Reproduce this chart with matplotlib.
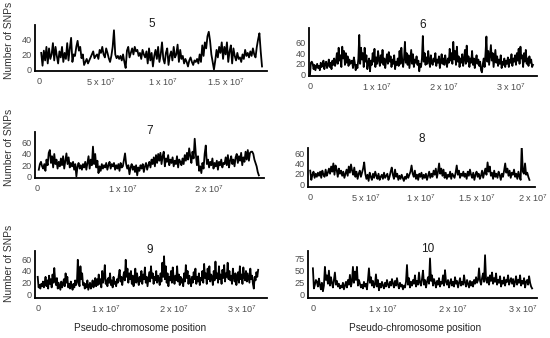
import numpy as np
import matplotlib
matplotlib.use("Agg")
import matplotlib.pyplot as plt

plt.rcParams["font.family"] = ["Liberation Sans", "DejaVu Sans"]
plt.rcParams["mathtext.fontset"] = "custom"
plt.rcParams["mathtext.rm"] = "Liberation Sans"
plt.rcParams["mathtext.it"] = "Liberation Sans"

# ── SNP counts per window ──
snp_5 = [22, 5, 25, 12, 30, 8, 28, 14, 20, 35,
         12, 30, 18, 8, 24, 16, 30, 10, 22, 14,
         35, 12, 28, 42, 10, 20, 18, 30, 38, 25,
         30, 15, 20, 6, 10, 14, 8, 12, 16, 20,
         24, 15, 18, 20, 14, 26, 22, 30, 20, 16,
         28, 22, 15, 10, 18, 30, 52, 20, 15, 18,
         14, 18, 12, 20, 10, 2, 25, 30, 16, 22,
         28, 20, 30, 24, 26, 18, 22, 14, 26, 20,
         16, 24, 8, 28, 12, 22, 4, 18, 26, 14,
         30, 10, 20, 36, 14, 8, 22, 28, 6, 18,
         24, 12, 30, 16, 20, 33, 10, 26, 14, 18,
         8, 14, 10, 4, 12, 16, 10, 6, 12, 10,
         14, 8, 20, 10, 32, 18, 36, 28, 44, 50,
         38, 20, 10, 0, 12, 26, 16, 30, 22, 36,
         14, 30, 20, 36, 10, 24, 32, 8, 28, 18,
         12, 22, 14, 16, 10, 20, 14, 26, 18, 22,
         16, 24, 18, 28, 20, 16, 30, 40, 48, 24, 4]

snp_6 = [0, 22, 24, 20, 10, 18, 8, 14, 20, 12,
         16, 8, 22, 14, 18, 26, 10, 20, 24, 12,
         18, 28, 14, 22, 10, 26, 18, 30, 16, 24,
         40, 20, 50, 26, 36, 14, 52, 30, 44, 18,
         40, 22, 34, 16, 28, 20, 24, 26, 12, 32,
         22, 8, 18, 12, 30, 74, 20, 50, 28, 40,
         14, 50, 24, 36, 10, 22, 30, 6, 26, 18,
         40, 24, 48, 14, 32, 20, 44, 28, 16, 36,
         22, 46, 18, 30, 12, 26, 38, 20, 42, 24,
         34, 14, 28, 20, 36, 10, 24, 18, 30, 16,
         44, 20, 50, 26, 14, 30, 61, 22, 40, 18,
         36, 12, 30, 46, 20, 38, 14, 28, 22, 34,
         18, 26, 6, 20, 14, 30, 72, 24, 40, 18,
         32, 20, 44, 26, 14, 36, 22, 18, 30, 24,
         40, 16, 28, 22, 34, 12, 26, 38, 20, 30,
         18, 36, 24, 14, 30, 22, 48, 26, 40, 20,
         61, 28, 44, 18, 52, 24, 34, 14, 30, 22,
         38, 16, 28, 46, 20, 54, 24, 34, 14, 30,
         22, 44, 18, 30, 12, 26, 36, 20, 28, 16,
         24, 8, 4, 20, 30, 14, 40, 71, 24, 44,
         18, 36, 55, 26, 40, 14, 30, 46, 22, 34,
         16, 28, 20, 36, 12, 24, 18, 30, 14, 26,
         20, 32, 14, 28, 22, 38, 16, 30, 24, 36,
         18, 40, 26, 48, 20, 52, 30, 36, 14, 40,
         24, 46, 20, 30, 16, 34, 22, 28, 14, 18]

snp_7 = [12, 22, 26, 18, 14, 22, 10, 30, 20, 42,
         47, 24, 36, 16, 40, 22, 30, 14, 26, 18,
         32, 20, 36, 14, 28, 41, 22, 34, 16, 24,
         18, 26, 12, 22, 0, 18, 24, 14, 20, 12,
         22, 16, 26, 12, 24, 36, 14, 30, 20, 53,
         22, 40, 16, 28, 6, 18, 10, 22, 14, 20,
         16, 24, 12, 20, 26, 14, 22, 18, 24, 12,
         20, 14, 22, 10, 24, 16, 18, 30, 41, 22,
         14, 20, 4, 16, 22, 12, 18, 8, 20, 2,
         16, 10, 20, 14, 22, 8, 18, 24, 12, 20,
         26, 16, 30, 22, 34, 18, 38, 24, 40, 28,
         42, 22, 36, 44, 18, 32, 26, 38, 20, 30,
         24, 34, 18, 28, 22, 36, 16, 30, 26, 20,
         32, 22, 38, 28, 42, 30, 50, 36, 24, 44,
         32, 67, 40, 20, 36, 10, 18, 6, 24, 14,
         40, 55, 22, 30, 16, 26, 20, 32, 14, 24,
         18, 28, 12, 26, 20, 30, 16, 24, 22, 34,
         20, 38, 16, 28, 36, 22, 30, 18, 34, 40,
         24, 36, 28, 42, 20, 34, 26, 44, 30, 47,
         28, 42, 44, 44, 40, 30, 24, 18, 8, 2]

snp_8 = [26, 8, 18, 24, 12, 20, 14, 22, 16, 24,
         12, 26, 18, 14, 28, 16, 22, 30, 20, 34,
         24, 40, 18, 36, 28, 14, 30, 20, 26, 16,
         24, 12, 20, 28, 16, 34, 22, 38, 26, 18,
         32, 14, 24, 10, 20, 26, 14, 22, 30, 42,
         20, 10, 18, 6, 22, 14, 8, 20, 12, 24,
         16, 10, 20, 8, 14, 18, 10, 22, 12, 16,
         20, 8, 14, 24, 32, 18, 10, 28, 14, 20,
         8, 16, 10, 18, 12, 6, 14, 10, 20, 12,
         18, 24, 36, 20, 14, 26, 10, 18, 8, 20,
         14, 22, 10, 18, 12, 20, 8, 16, 24, 12,
         20, 14, 26, 18, 30, 12, 24, 40, 20, 30,
         16, 28, 12, 22, 10, 18, 14, 24, 10, 20,
         16, 12, 22, 36, 18, 26, 12, 20, 16, 24,
         14, 20, 10, 24, 16, 28, 18, 12, 22, 8,
         18, 24, 14, 20, 10, 16, 26, 12, 22, 30,
         18, 42, 24, 34, 16, 22, 10, 26, 14, 20,
         12, 24, 18, 8, 20, 14, 26, 40, 22, 30,
         16, 26, 12, 22, 18, 28, 14, 20, 10, 24,
         14, 8, 75, 24, 20, 40, 18, 22, 14, 8]

snp_9 = [30, 12, 16, 10, 18, 14, 22, 12, 20, 30,
         14, 24, 10, 32, 18, 26, 12, 34, 20, 45,
         24, 16, 28, 10, 20, 14, 8, 22, 12, 18,
         26, 14, 36, 20, 30, 12, 18, 10, 22, 14,
         8, 18, 12, 24, 16, 20, 59, 22, 14, 48,
         26, 36, 16, 20, 10, 18, 12, 24, 8, 14,
         20, 10, 16, 24, 12, 18, 28, 14, 26, 16,
         34, 18, 26, 12, 40, 20, 30, 50, 18, 24,
         14, 28, 20, 36, 16, 24, 12, 30, 18, 22,
         14, 26, 20, 32, 42, 22, 30, 16, 28, 38,
         24, 59, 30, 44, 20, 36, 26, 40, 18, 32,
         14, 28, 44, 20, 36, 24, 16, 30, 22, 40,
         18, 34, 26, 46, 20, 30, 14, 26, 38, 22,
         48, 28, 36, 18, 30, 24, 40, 20, 32, 26,
         16, 36, 22, 54, 30, 65, 26, 48, 20, 36,
         14, 30, 24, 40, 20, 46, 28, 18, 32, 24,
         48, 22, 34, 16, 30, 20, 26, 14, 36, 22,
         50, 28, 40, 18, 32, 24, 14, 30, 20, 38,
         26, 44, 18, 30, 22, 36, 16, 28, 24, 40,
         20, 52, 28, 36, 18, 44, 26, 48, 22, 34,
         30, 16, 40, 24, 56, 28, 36, 20, 48, 26,
         34, 18, 42, 28, 50, 22, 36, 30, 54, 26,
         40, 24, 32, 18, 44, 30, 22, 36, 16, 28,
         38, 20, 48, 26, 34, 18, 46, 30, 24, 40,
         22, 36, 28, 20, 44, 26, 32, 18, 10, 30,
         24, 38, 30, 42]

snp_10 = [55, 12, 20, 30, 26, 16, 33, 20, 10, 24,
          6, 18, 58, 30, 40, 22, 50, 18, 36, 24,
          14, 30, 46, 20, 28, 16, 22, 12, 18, 14,
          24, 10, 18, 26, 14, 30, 20, 41, 16, 26,
          58, 24, 48, 30, 58, 18, 30, 22, 14, 20,
          12, 26, 16, 22, 10, 30, 55, 24, 36, 18,
          28, 14, 20, 42, 16, 30, 8, 22, 14, 26,
          18, 12, 24, 16, 30, 20, 14, 26, 18, 32,
          22, 14, 28, 18, 34, 20, 12, 24, 16, 20,
          10, 18, 14, 26, 62, 20, 34, 14, 26, 18,
          30, 22, 40, 16, 28, 20, 46, 24, 18, 32,
          50, 20, 30, 14, 26, 36, 22, 76, 28, 40,
          18, 32, 24, 14, 28, 20, 34, 16, 26, 22,
          40, 18, 51, 26, 20, 30, 14, 24, 32, 18,
          26, 16, 36, 22, 28, 14, 24, 34, 18, 26,
          20, 40, 24, 16, 30, 22, 14, 28, 18, 26,
          16, 30, 22, 36, 24, 30, 55, 28, 20, 34,
          44, 26, 83, 30, 24, 36, 20, 40, 28, 46,
          22, 34, 26, 44, 20, 30, 24, 38, 16, 28,
          22, 36, 18, 30, 26, 40, 20, 28, 34, 22,
          32, 16, 26, 38, 20, 30, 24, 40, 18, 28,
          22, 34, 14, 26, 30, 20, 38, 24, 16, 12]

# span covered by the windows on each pseudo-chromosome
span_5 = (0.02e7, 1.79e7)
span_6 = (0.0, 3.33e7)
span_7 = (0.02e7, 2.58e7)
span_8 = (0.0, 1.97e7)
span_9 = (0.0, 3.24e7)
span_10 = (0.0, 3.13e7)

ticks_5 = [0, 0.5e7, 1e7, 1.5e7]
labels_5 = ["0", r"5 x 10$^7$", r"1 x 10$^7$", r"1.5 x 10$^7$"]
ticks_8 = [0, 0.5e7, 1e7, 1.5e7, 2e7]
labels_8 = ["0", r"5 x 10$^7$", r"1 x 10$^7$", r"1.5 x 10$^7$", r"2 x 10$^7$"]
ticks_3 = [0, 1e7, 2e7, 3e7]
labels_3 = ["0", r"1 x 10$^7$", r"2 x 10$^7$", r"3 x 10$^7$"]
ticks_2 = [0, 1e7, 2e7]
labels_2 = ["0", r"1 x 10$^7$", r"2 x 10$^7$"]

W, H = 550, 338

panels = [
    # name, data, span, ax box px (l, r, top, bottom), xlim, ylim, yticks, xticks, xlabels, title px
    ("5", snp_5, span_5, (35, 267, 25, 71), (-0.03e7, 1.83e7), (-2, 59), [0, 20, 40], ticks_5, labels_5, (152, 24)),
    ("6", snp_6, span_6, (309, 537, 28, 76), (-0.015e7, 3.39e7), (-2.8, 87), [0, 20, 40, 60], ticks_3, labels_3, (423, 24.5)),
    ("7", snp_7, span_7, (35, 264, 132, 178), (-0.024e7, 2.64e7), (-2.7, 79), [0, 20, 40, 60], ticks_2, labels_2, (150, 131)),
    ("8", snp_8, span_8, (308, 535, 148, 187), (-0.02e7, 2.02e7), (-5.8, 70), [0, 20, 40, 60], ticks_8, labels_8, (422, 139)),
    ("9", snp_9, span_9, (35, 267, 251, 298), (-0.04e7, 3.37e7), (-6, 74), [0, 20, 40, 60], ticks_3, labels_3, (150, 250)),
    ("10", snp_10, span_10, (308, 537, 251, 298), (-0.07e7, 3.2e7), (-8.5, 92), [0, 25, 50, 75], ticks_3, labels_3, (428, 249)),
]

fig = plt.figure(figsize=(W / 100, H / 100), dpi=100)
fig.patch.set_facecolor("white")

for name, vals, span, box, xlim, ylim, yt, xt, xl, tpos in panels:
    l, r, t, b = box
    ax = fig.add_axes([l / W, 1 - b / H, (r - l) / W, (b - t) / H])
    x = np.linspace(span[0], span[1], len(vals))
    ax.plot(x, vals, color="black", lw=1.3)
    ax.set_xlim(*xlim)
    ax.set_ylim(*ylim)
    ax.set_yticks(yt)
    ax.set_xticks(xt)
    ax.set_xticklabels(xl)
    for s in ["top", "right"]:
        ax.spines[s].set_visible(False)
    for s in ["left", "bottom"]:
        ax.spines[s].set_linewidth(1.3)
        ax.spines[s].set_color("black")
    ax.tick_params(axis="both", length=0, labelsize=6.6, colors="#4d4d4d")
    ax.tick_params(axis="x", pad=4)
    ax.tick_params(axis="y", pad=2)
    ax.set_facecolor("white")
    fig.text(tpos[0] / W, 1 - tpos[1] / H, name, ha="center", va="center",
             fontsize=8.5, color="#1a1a1a")

# y labels (left column only)
for yc in [40, 147, 263]:
    fig.text(9 / W, 1 - yc / H, "Number of SNPs", rotation=90, ha="center",
             va="center", fontsize=7.4, color="#333333")

for xc in [140, 415]:
    fig.text(xc / W, 1 - 328 / H, "Pseudo-chromosome position", ha="center",
             va="center", fontsize=7.2, color="#222222")

fig.savefig("out.png", dpi=100)
